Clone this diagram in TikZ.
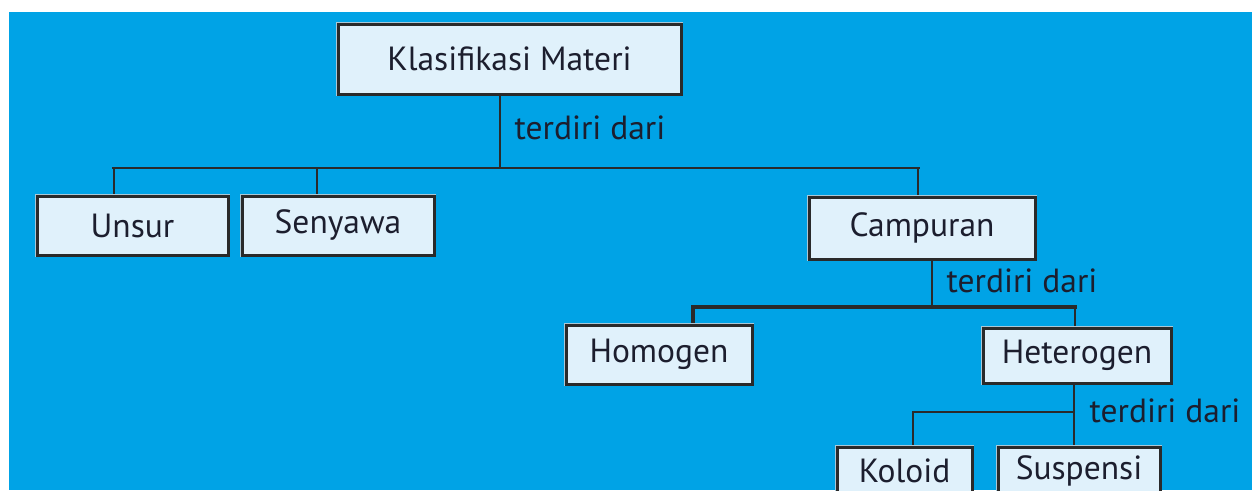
\documentclass[tikz,border=0pt]{standalone}
\usepackage{fontspec}
\setmainfont{PT Sans}
\usetikzlibrary{backgrounds}
\definecolor{bgblue}{RGB}{0,163,230}
\definecolor{boxfill}{RGB}{224,241,251}
\definecolor{boxline}{RGB}{42,42,42}
\definecolor{halo}{RGB}{170,200,215}
\definecolor{txt}{RGB}{28,30,46}
\begin{document}
\begin{tikzpicture}[x=1pt,y=-1pt,
  box/.style={draw=boxline, line width=3pt, fill=boxfill, text=txt,
    font=\fontsize{33.5}{40}\selectfont, inner sep=0pt, anchor=center,
    preaction={draw=halo, line width=4.4pt}},
  conn/.style={draw=boxline, line width=2.8pt},
  thickconn/.style={draw=boxline, line width=4.6pt, line cap=rect},
  lbl/.style={text=txt, font=\fontsize{33.5}{40}\selectfont, inner sep=0pt}]
\useasboundingbox (0,0) rectangle (1252,490);
\node[box, minimum width=343pt, minimum height=70pt] (km) at (509.5,59) {Klasifikasi Materi};
\node[box, minimum width=191pt, minimum height=59pt] (unsur) at (132.5,225.5) {Unsur};
\node[box, minimum width=192pt, minimum height=59pt] (senyawa) at (338,225.5) {Senyawa};
\node[box, minimum width=226pt, minimum height=62pt] (campuran) at (922,228) {Campuran};
\node[box, minimum width=186pt, minimum height=59pt] (homogen) at (659,354.5) {Homogen};
\node[box, minimum width=188pt, minimum height=55pt] (heterogen) at (1077,355.5) {Heterogen};
\node[box, minimum width=135pt, minimum height=48pt] (koloid) at (904.5,471) {Koloid};
\node[box, minimum width=162pt, minimum height=48pt] (suspensi) at (1079,471) {Suspensi};
\node[lbl] (l1) at (590,128) {terdiri dari};
\node[lbl] (l2) at (1022,281) {terdiri dari};
\node[lbl] (l3) at (1165,411) {terdiri dari};
\coordinate (j1) at (500,168);
\coordinate (j1l) at (112,168);
\coordinate (j1r) at (920,168);
\coordinate (j2) at (932,307);
\coordinate (j2l) at (693,307);
\coordinate (j2r) at (1075,307);
\coordinate (j3) at (1074,412);
\coordinate (j3l) at (913,412);
\begin{scope}[on background layer]
\fill[bgblue] (9,12) rectangle (1252,490);
\draw[conn] (km.south -| j1) -- (j1);
\draw[conn] (j1l) -- (j1r);
\draw[conn] (unsur.north -| 114,0) -- (114,168);
\draw[conn] (senyawa.north -| 317,0) -- (317,168);
\draw[conn] (campuran.north -| 918,0) -- (918,168);
\draw[conn] (campuran.south -| j2) -- (j2);
\draw[thickconn] (j2l) -- (j2r);
\draw[thickconn] (homogen.north -| j2l) -- (j2l);
\draw[conn] (heterogen.north -| j2r) -- (j2r);
\draw[conn] (heterogen.south -| j3) -- (suspensi.north -| j3);
\draw[conn] (j3) -- (j3l) -- (koloid.north -| j3l);
\end{scope}
\end{tikzpicture}
\end{document}
